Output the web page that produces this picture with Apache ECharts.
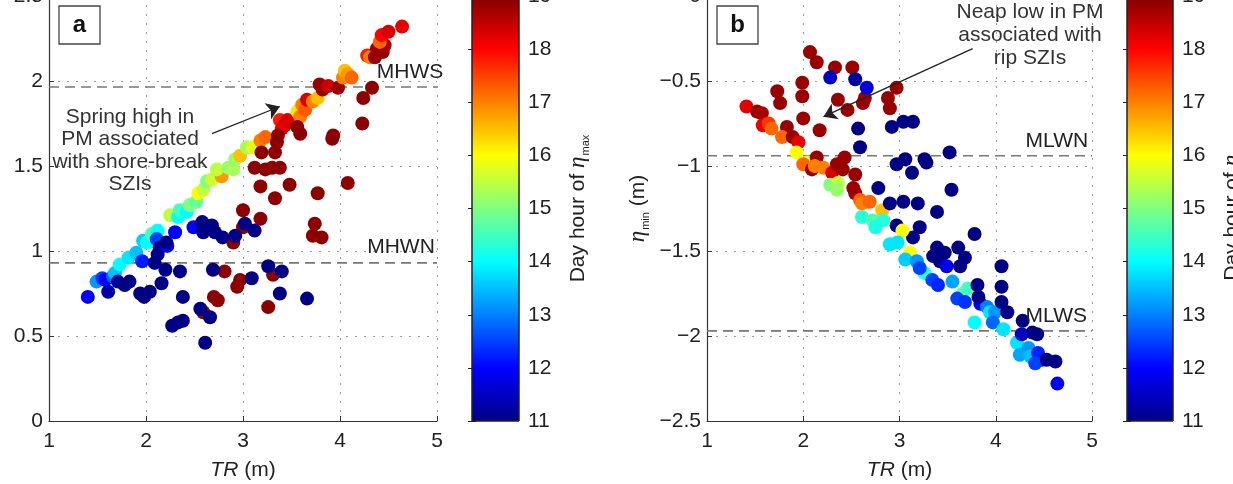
<!DOCTYPE html>
<html><head><meta charset="utf-8">
<script src="https://cdn.jsdelivr.net/npm/echarts@6/dist/echarts.min.js"></script>
<style>
html,body{margin:0;padding:0;background:#fff;overflow:hidden;width:1233px;height:484px;position:relative}
#main{position:absolute;left:0;top:-10px;width:1233px;height:500px}
</style></head>
<body><div id="main"></div>
<script>
// ---------------- DATA ----------------
// panel a: [tidal range TR (m), eta_max (m), day hour of eta_max]
const pointsA = [
 [1.40,0.73,12.0],[1.49,0.82,13.2],[1.55,0.84,12.5],[1.58,0.83,12.0],[1.61,0.76,11.3],[1.66,0.85,12.8],
 [1.68,0.87,13.5],[1.71,0.82,11.2],[1.73,0.92,14.0],[1.78,0.80,11.0],[1.83,0.82,11.0],[1.82,0.96,13.8],
 [1.90,0.99,13.5],[1.96,0.94,12.2],[1.94,0.75,11.0],[1.98,0.73,11.0],[2.04,0.76,11.0],[1.97,1.06,13.6],
 [2.01,1.05,14.0],[2.06,1.10,14.6],[2.12,1.12,14.0],[2.11,1.07,12.5],[2.09,0.93,11.0],[2.12,0.98,11.0],
 [2.14,1.02,11.0],[2.16,0.81,11.0],[2.20,0.89,11.0],[2.22,1.03,12.0],[2.21,1.05,11.0],[2.30,1.11,12.0],
 [2.25,1.21,15.5],[2.33,1.20,14.0],[2.35,1.24,14.5],[2.42,1.23,14.0],[2.45,1.27,15.0],[2.52,1.29,14.8],
 [2.54,1.34,16.0],[2.59,1.36,15.5],[2.63,1.41,15.0],[2.68,1.42,15.6],[2.78,1.44,16.8],[2.73,1.48,15.5],
 [2.85,1.49,15.2],[2.90,1.48,15.3],[2.92,1.54,15.2],[2.97,1.56,16.5],[3.04,1.61,15.3],[3.10,1.61,15.8],
 [3.18,1.65,17.0],[3.23,1.67,17.2],
 [3.38,1.77,17.8],[3.43,1.74,18.7],[3.40,1.72,18.2],[3.46,1.77,18.3],[3.56,1.82,16.2],[3.59,1.79,17.0],
 [3.61,1.86,17.0],[3.64,1.83,17.3],[3.66,1.89,18.3],[3.72,1.88,17.0],[3.77,1.90,16.5],[3.79,1.98,18.8],
 [3.82,1.95,18.8],[3.88,1.97,18.4],[3.98,1.96,18.8],[4.03,2.02,17.0],[4.05,2.06,16.5],[4.08,2.04,16.8],
 [4.12,2.02,17.2],[4.28,2.15,17.8],[4.31,2.14,17.0],[4.36,2.14,18.8],[4.38,2.19,18.8],[4.44,2.17,18.8],
 [4.46,2.21,18.7],[4.41,2.23,17.2],[4.43,2.27,18.0],[4.50,2.29,18.3],[4.64,2.32,18.2],
 [4.33,1.96,18.9],[4.24,1.90,18.9],[4.23,1.75,18.9],[3.93,1.68,18.9],[3.92,1.66,18.9],[3.59,1.69,18.9],
 [3.56,1.73,18.9],[3.36,1.68,18.9],[3.35,1.64,18.9],[3.33,1.58,18.9],[3.19,1.58,18.9],[3.12,1.49,18.9],
 [3.23,1.48,18.9],[3.30,1.49,18.9],[3.38,1.49,18.9],[3.18,1.38,18.9],[3.48,1.39,18.9],[3.77,1.34,18.9],
 [4.08,1.40,18.9],[3.33,1.31,18.9],[3.18,1.19,18.9],[3.74,1.16,18.9],[3.72,1.09,18.9],[3.81,1.08,18.9],
 [3.00,1.24,18.9],[3.00,1.14,18.9],[2.90,1.05,18.9],
 [2.59,0.64,18.9],[2.70,0.73,18.9],[2.74,0.71,18.9],[2.81,0.88,18.9],[2.97,0.83,18.9],[2.94,0.79,18.9],
 [3.26,0.67,18.9],[3.31,0.86,18.9],
 [2.49,1.14,12.0],[2.58,1.17,11.0],[2.59,1.11,11.0],[2.68,1.15,11.0],[2.71,1.11,11.0],[2.79,1.08,11.0],
 [2.92,1.09,11.0],[3.02,1.16,11.0],[3.12,1.12,11.0],
 [2.35,0.88,11.0],[2.38,0.73,11.0],[2.27,0.56,11.0],[2.33,0.58,11.0],[2.38,0.59,11.0],[2.56,0.66,11.0],
 [2.61,0.46,11.0],[2.66,0.61,11.0],[2.69,0.89,11.0],[3.09,0.84,11.0],[3.26,0.91,11.0],[3.40,0.88,11.0],
 [3.38,0.75,11.0],[3.66,0.72,11.0]
];
// panel b: [tidal range TR (m), eta_min (m), day hour of eta_min]
const pointsB = [
 [2.07,-0.33,18.8],[2.14,-0.39,18.8],[2.33,-0.42,18.8],[2.51,-0.42,18.8],[1.99,-0.51,18.8],[1.73,-0.56,18.8],
 [1.76,-0.63,18.8],[1.99,-0.59,18.8],[2.36,-0.61,18.8],[2.46,-0.67,18.8],[2.64,-0.60,18.8],[2.62,-0.63,18.8],
 [2.97,-0.54,18.8],[2.88,-0.60,18.8],[2.90,-0.66,18.8],[2.00,-0.72,18.8],[2.17,-0.79,18.8],
 [2.28,-0.48,11.5],[2.54,-0.49,11.2],[2.66,-0.54,11.7],[2.92,-0.77,11.0],[3.04,-0.74,11.0],[3.14,-0.74,11.0],
 [2.57,-0.78,11.0],[2.59,-0.89,11.0],
 [1.41,-0.65,18.2],[1.52,-0.68,18.8],[1.57,-0.69,18.7],[1.58,-0.76,18.2],[1.64,-0.75,17.6],[1.67,-0.78,17.2],
 [1.83,-0.77,18.8],[1.78,-0.83,17.2],[1.89,-0.83,18.8],[1.95,-0.86,18.2],[1.93,-0.92,16.0],[2.04,-0.98,16.0],
 [2.00,-0.99,17.2],[2.14,-0.95,18.8],[2.09,-1.02,18.8],[2.12,-1.00,17.0],[2.21,-1.01,17.0],[2.30,-1.04,18.3],
 [2.35,-0.99,18.8],[2.43,-0.95,18.8],[2.41,-1.02,18.8],[2.54,-1.05,18.8],[2.28,-1.11,15.0],[2.36,-1.10,15.5],
 [2.35,-1.14,15.2],[2.52,-1.13,18.8],[2.54,-1.16,18.8],[2.59,-1.20,17.3],[2.61,-1.22,17.0],[2.69,-1.21,17.2],
 [2.61,-1.30,14.3],[2.72,-1.32,14.6],[2.82,-1.26,16.5],[2.83,-1.32,14.3],[2.75,-1.36,14.2],
 [2.78,-1.13,11.0],[2.90,-1.22,11.0],[3.04,-1.21,11.0],[3.19,-1.22,11.0],[2.97,-1.35,11.0],[3.21,-1.36,11.0],
 [3.26,-0.96,11.0],[2.97,-0.99,11.0],[3.06,-0.96,11.0],[3.13,-1.04,11.0],[3.52,-0.92,11.0],[3.28,-0.98,11.0],
 [3.54,-1.14,11.0],[3.39,-1.27,11.0],[3.78,-1.40,11.0],[3.14,-1.42,11.0],
 [3.03,-1.38,16.0],[2.90,-1.46,13.8],[2.98,-1.45,13.8],[3.11,-1.51,16.0],[3.06,-1.55,13.6],[3.18,-1.56,13.2],
 [3.26,-1.63,14.3],[3.21,-1.60,12.5],[3.34,-1.67,12.5],[3.40,-1.70,12.3],[3.55,-1.68,13.3],[3.66,-1.75,14.8],
 [3.71,-1.72,14.5],[3.60,-1.78,12.5],[3.68,-1.80,12.4],[3.84,-1.81,12.0],[3.91,-1.83,13.0],[3.94,-1.86,13.8],
 [3.99,-1.86,13.2],[3.78,-1.92,14.0],[3.97,-1.92,12.8],[4.08,-1.96,13.8],[4.22,-2.04,13.8],[4.34,-2.07,13.2],
 [4.25,-2.11,13.3],[4.36,-2.12,13.5],[4.44,-2.10,12.3],[4.48,-2.14,12.2],[4.41,-2.16,12.5],[4.64,-2.28,12.0],
 [3.35,-1.53,11.0],[3.39,-1.48,11.0],[3.47,-1.51,11.0],[3.42,-1.56,11.0],[3.49,-1.59,11.8],[3.61,-1.48,11.0],
 [3.68,-1.54,11.0],[3.63,-1.59,11.0],[3.81,-1.70,11.0],[3.82,-1.77,11.0],[4.06,-1.59,11.0],[4.06,-1.71,11.0],
 [4.06,-1.80,11.0],[4.12,-1.86,11.0],[4.28,-1.91,11.0],[4.38,-1.98,11.0],[4.43,-1.99,11.0],[4.27,-1.99,11.5],
 [4.53,-2.14,11.0],[4.62,-2.15,11.0]
];
const levelNamesA = ['MHWS', 'MHWN'];
const levelValuesA = [1.965, 0.93];
const levelNamesB = ['MLWN', 'MLWS'];
const levelValuesB = [-0.94, -1.97];
const xTicks = [1, 2, 3, 4, 5];
const yTicksA = [0, 0.5, 1, 1.5, 2, 2.5];
const yTicksB = [-2.5, -2, -1.5, -1, -0.5, 0];
const hourTicks = [11, 12, 13, 14, 15, 16, 17, 18, 19];
const annotationA = 'Spring high in\nPM associated\nwith shore-break\nSZIs';
const annotationB = 'Neap low in PM\nassociated with\nrip SZIs';

// ---------------- STYLE ----------------
const jet = ['#000084','#0000ff','#0080ff','#00ffff','#80ff80','#ffff00','#ff8000','#ff0000','#800000'];
const FONT = 'Liberation Sans, Arial, Helvetica, sans-serif';
const FS = 21;
const TOP = 6, H = 425;
const gbase = {outerBoundsMode: 'none', containLabel: false};
const gridA = Object.assign({left: 49, top: TOP, width: 388, height: H}, gbase);
const gridB = Object.assign({left: 707, top: TOP, width: 385, height: H}, gbase);
const cbA = Object.assign({left: 472, top: TOP, width: 47, height: H}, gbase);
const cbB = Object.assign({left: 1127, top: TOP, width: 46, height: H}, gbase);

const chart = echarts.init(document.getElementById('main'), null, {renderer: 'canvas'});
const minus = v => String(v).replace('-', '\u2212');
const rich = {
  n: {fontFamily: FONT, fontSize: FS, color: '#222', lineHeight: 26, verticalAlign: 'middle'},
  i: {fontFamily: FONT, fontSize: FS, color: '#222', fontStyle: 'italic', lineHeight: 26, verticalAlign: 'middle'},
  e: {fontFamily: 'Liberation Serif, DejaVu Serif, serif', fontSize: FS + 2, fontStyle: 'italic', color: '#222', lineHeight: 26, verticalAlign: 'middle'},
  s: {fontFamily: FONT, fontSize: 11, color: '#222', lineHeight: 11, verticalAlign: 'bottom', padding: [0, 0, 0, 1]}
};

function valueX(gi) {
  return {
    type: 'value', gridIndex: gi, min: xTicks[0], max: xTicks[xTicks.length - 1], interval: 1,
    name: '{i|TR}{n| (m)}', nameLocation: 'middle', nameGap: 36,
    nameTextStyle: {rich},
    axisLine: {onZero: false, lineStyle: {color: '#333', width: 1.2}},
    axisTick: {inside: true, length: 5, lineStyle: {color: '#333'}},
    axisLabel: {fontFamily: FONT, fontSize: FS, color: '#222', margin: 10},
    splitLine: {show: true, lineStyle: {type: [2, 7], color: '#999', width: 1}}
  };
}
function valueY(gi, ticks, name) {
  return {
    type: 'value', gridIndex: gi, min: ticks[0], max: ticks[ticks.length - 1], interval: 0.5,
    name: name || '', nameLocation: 'middle', nameGap: 56, nameRotate: 90,
    nameTextStyle: {rich},
    axisLine: {onZero: false, lineStyle: {color: '#333', width: 1.2}},
    axisTick: {inside: true, length: 5, lineStyle: {color: '#333'}},
    axisLabel: {fontFamily: FONT, fontSize: FS, color: '#222', margin: 6, formatter: minus},
    splitLine: {show: true, lineStyle: {type: [2, 7], color: '#999', width: 1}}
  };
}
function cbarX(gi) {
  return {type: 'value', gridIndex: gi, min: 0, max: 1, show: false};
}
function cbarY(gi, pos, labels, name) {
  return {
    type: 'value', gridIndex: gi, position: pos, min: hourTicks[0], max: hourTicks[hourTicks.length - 1], interval: 1,
    name: name || '', nameLocation: 'middle', nameRotate: 90, nameGap: 46, nameTextStyle: {rich},
    axisLine: {show: false},
    axisTick: {show: true, inside: true, length: 4, lineStyle: {color: '#222'}},
    axisLabel: {show: labels, fontFamily: FONT, fontSize: FS, color: '#222', margin: 9},
    splitLine: {show: false}
  };
}
function cbarRender(params, api) {
  const p0 = api.coord([0, api.value(1)]);
  const p1 = api.coord([1, api.value(0)]);
  return {
    type: 'rect',
    shape: {x: p0[0], y: p0[1], width: p1[0] - p0[0], height: p1[1] - p0[1]},
    style: {
      fill: new echarts.graphic.LinearGradient(0, 1, 0, 0, jet.map((c, i) => ({offset: i / (jet.length - 1), color: c}))),
      stroke: '#222', lineWidth: 1
    }
  };
}
function levelSeries(xi, values) {
  return values.map(v => ({
    type: 'line', xAxisIndex: xi, yAxisIndex: xi, symbol: 'none', silent: true, z: 1,
    data: [[xTicks[0], v], [xTicks[xTicks.length - 1], v]],
    lineStyle: {color: '#777', width: 1.6, type: [10, 6]}
  }));
}
function scatterSeries(xi, pts) {
  return {
    type: 'scatter', xAxisIndex: xi, yAxisIndex: xi, symbolSize: 14, z: 3,
    data: pts, itemStyle: {opacity: 1}
  };
}
// annotation anchors (data coordinates)
const arrowA = [[2.68, 1.69], [3.38, 1.85]];
const arrowB = [[3.76, -0.31], [2.21, -0.71]];
function arrowSeries(xi, seg) {
  return {
    type: 'line', xAxisIndex: xi, yAxisIndex: xi, data: [], silent: true, z: 4,
    markLine: {
      silent: true, symbol: ['none', 'arrow'], symbolSize: 13,
      label: {show: false},
      lineStyle: {type: 'solid', color: '#222', width: 1.3},
      data: [[{coord: seg[0]}, {coord: seg[1]}]]
    }
  };
}

const option = {
  animation: false,
  backgroundColor: '#fff',
  grid: [gridA, gridB, cbA, cbB],
  xAxis: [valueX(0), valueX(1), cbarX(2), cbarX(3), cbarX(2), cbarX(3)],
  yAxis: [
    valueY(0, yTicksA, ''),
    valueY(1, yTicksB, '{e|η}{s|min}{n| (m)}'),
    cbarY(2, 'right', true, '{n|Day hour of }{e|η}{s|max}'),
    cbarY(3, 'right', true, '{n|Day hour of }{e|η}{s|min}'),
    cbarY(2, 'left', false, ''),
    cbarY(3, 'left', false, '')
  ],
  visualMap: {
    type: 'continuous', show: false, min: hourTicks[0], max: hourTicks[hourTicks.length - 1],
    dimension: 2, seriesIndex: [0, 1], inRange: {color: jet}
  },
  series: [
    scatterSeries(0, pointsA),
    scatterSeries(1, pointsB),
    ...levelSeries(0, levelValuesA),
    ...levelSeries(1, levelValuesB),
    arrowSeries(0, arrowA),
    arrowSeries(1, arrowB),
    {type: 'custom', xAxisIndex: 2, yAxisIndex: 2, data: [[hourTicks[0], hourTicks[hourTicks.length - 1]]], renderItem: cbarRender, silent: true},
    {type: 'custom', xAxisIndex: 3, yAxisIndex: 3, data: [[hourTicks[0], hourTicks[hourTicks.length - 1]]], renderItem: cbarRender, silent: true}
  ]
};
chart.setOption(option);

// text annotations placed through the axes' scales
const px = (gi, pt) => chart.convertToPixel({gridIndex: gi}, pt);
const labelPos = {
  MHWS: [0, [4.38, 2.05]], MHWN: [0, [4.28, 1.02]],
  MLWN: [1, [4.31, -0.855]], MLWS: [1, [4.31, -1.882]]
};
const g = [];
[...levelNamesA, ...levelNamesB].forEach(nm => {
  const [gi, pt] = labelPos[nm];
  const p = px(gi, pt);
  g.push({type: 'text', x: p[0], y: p[1], z: 10,
    style: {text: nm, fontFamily: FONT, fontSize: FS, fill: '#222', textAlign: 'left', textVerticalAlign: 'middle'}});
});
const pA = px(0, [1.835, 1.59]);
g.push({type: 'text', x: pA[0], y: pA[1], z: 10,
  style: {text: annotationA, fontFamily: FONT, fontSize: FS, lineHeight: 22.5, fill: '#333', textAlign: 'center', textVerticalAlign: 'middle'}});
const pB = px(1, [4.356, -0.229]);
g.push({type: 'text', x: pB[0], y: pB[1], z: 10,
  style: {text: annotationB, fontFamily: FONT, fontSize: FS, lineHeight: 23, fill: '#333', textAlign: 'center', textVerticalAlign: 'middle'}});
// panel letters
[[gridA, 'a'], [gridB, 'b']].forEach(([gr, t]) => {
  g.push({type: 'rect', x: gr.left + 10, y: gr.top + 10, z: 10,
    shape: {width: 41, height: 38}, style: {fill: '#fff', stroke: '#444', lineWidth: 1.3}});
  g.push({type: 'text', x: gr.left + 30.5, y: gr.top + 29, z: 11,
    style: {text: t, fontFamily: FONT, fontSize: 24, fontWeight: 'bold', fill: '#111', textAlign: 'center', textVerticalAlign: 'middle'}});
});
chart.setOption({graphic: g});
</script>
</body></html>
